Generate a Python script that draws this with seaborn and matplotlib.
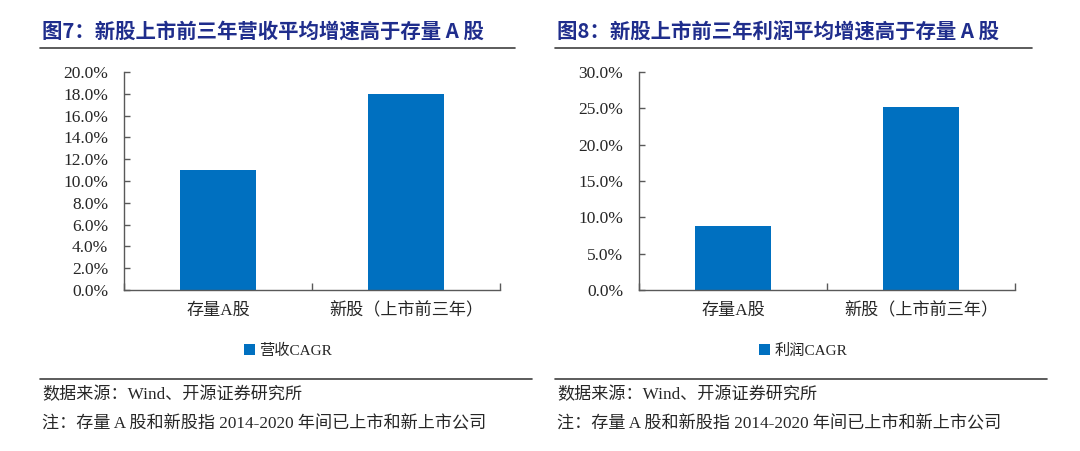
import matplotlib
matplotlib.use("Agg")
import matplotlib.pyplot as plt
import matplotlib.lines as mlines
from matplotlib.ticker import FuncFormatter, MultipleLocator
import seaborn as sns
import pandas as pd

categories = ["存量A股", "新股（上市前三年）"]
revenue_cagr = [0.110, 0.180]
profit_cagr = [0.088, 0.252]
series_names = ["营收CAGR", "利润CAGR"]
titles = ["图7：新股上市前三年营收平均增速高于存量 A 股",
          "图8：新股上市前三年利润平均增速高于存量 A 股"]
source_text = "数据来源：Wind、开源证券研究所"
note_text = "注：存量 A 股和新股指 2014-2020 年间已上市和新上市公司"
y_max = [0.20, 0.30]
y_step = [0.02, 0.05]

sns.set_theme(style="white")
FONT = ["Liberation Serif", "Noto Sans CJK SC", "DejaVu Sans"]
plt.rcParams["font.family"] = FONT

W, H = 1080, 451
fig = plt.figure(figsize=(W / 100, H / 100), dpi=100)

BAR = "#0070C0"
TITLE_C = "#1F2D8C"
AX_C = "#595959"
TXT_C = "#262626"


def fx(x):
    return x / W


def fy(y):
    return 1 - y / H


panels = [
    dict(ax_l=124, ax_r=500, title_x=42, line_l=40, line_r=515, sep_r=532, leg_x=288,
         text_x=42),
    dict(ax_l=639, ax_r=1015, title_x=557, line_l=555, line_r=1032, sep_r=1047, leg_x=803,
         text_x=557),
]
values = [revenue_cagr, profit_cagr]

for i, p in enumerate(panels):
    ax = fig.add_axes([fx(p["ax_l"]), fy(290), fx(p["ax_r"] - p["ax_l"]), (290 - 72) / H])
    df = pd.DataFrame({"cat": categories, "val": values[i], "series": series_names[i]})
    sns.barplot(data=df, x="cat", y="val", hue="series", palette=[BAR], width=0.4,
                ax=ax, saturation=1, dodge=False, edgecolor="none")
    ax.set_xlim(-0.5, 1.5)
    ax.set_ylim(0, y_max[i])
    ax.yaxis.set_major_locator(MultipleLocator(y_step[i]))
    ax.yaxis.set_major_formatter(FuncFormatter(lambda v, _: f"{v*100:.1f}%"))
    ax.set_xlabel("")
    ax.set_ylabel("")
    for s in ["top", "right"]:
        ax.spines[s].set_visible(False)
    for s in ["left", "bottom"]:
        ax.spines[s].set_color(AX_C)
        ax.spines[s].set_linewidth(1.0)
    ax.tick_params(axis="y", direction="in", length=4, width=1, color=AX_C,
                   labelsize=12.5, labelcolor=TXT_C, pad=11.5, left=True)
    ax.set_xticks([0, 1])
    ax.set_xticklabels(categories, fontsize=12.3, color=TXT_C)
    ax.tick_params(axis="x", which="major", length=0, pad=9)
    ax.set_xticks([-0.5, 0.5, 1.5], minor=True)
    ax.tick_params(axis="x", which="minor", direction="in", length=5, width=1,
                   color=AX_C, bottom=True)
    for lab in ax.get_yticklabels():
        lab.set_fontfamily(FONT)
    handles, labels = ax.get_legend_handles_labels()
    if ax.get_legend() is not None:
        ax.get_legend().remove()
    fig.legend(handles, labels, loc="center", bbox_to_anchor=(fx(p["leg_x"]), fy(351)),
               frameon=False, handlelength=0.7, handleheight=0.7, handletextpad=0.3,
               prop={"family": FONT, "size": 11}, labelcolor=TXT_C)

    fig.text(fx(p["title_x"]), fy(31), titles[i], fontsize=14.7, fontweight="bold",
             color=TITLE_C, va="center", ha="left",
             family=["Noto Sans CJK SC", "Liberation Serif"])
    fig.add_artist(mlines.Line2D([fx(p["line_l"]), fx(p["line_r"])], [fy(48), fy(48)],
                                 transform=fig.transFigure, color="#404040", lw=1.2))
    fig.add_artist(mlines.Line2D([fx(p["line_l"]), fx(p["sep_r"])], [fy(379), fy(379)],
                                 transform=fig.transFigure, color="#404040", lw=1.2))
    fig.text(fx(p["text_x"]), fy(395), source_text, fontsize=12.3, color=TXT_C,
             va="center", ha="left", family=FONT)
    fig.text(fx(p["text_x"]), fy(424), note_text, fontsize=12.3, color=TXT_C,
             va="center", ha="left", family=FONT)

fig.savefig("out.png", dpi=100, facecolor="white")
